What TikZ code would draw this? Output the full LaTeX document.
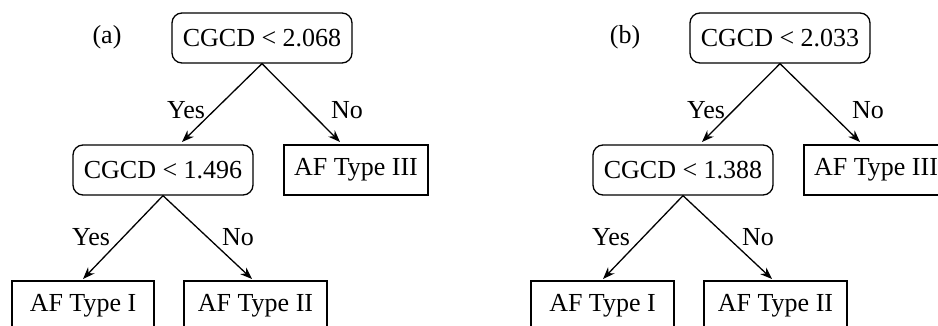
\documentclass[tikz,border=0pt]{standalone}
\usepackage{fontspec}
\setmainfont{Liberation Serif}
\usetikzlibrary{arrows.meta}
\begin{document}
\begin{tikzpicture}[x=1pt,y=-1pt,
  every node/.style={font=\fontsize{26}{31}\selectfont, inner sep=0pt},
  cond/.style={draw, line width=1.3pt, rounded corners=10pt, minimum width=180pt, minimum height=50pt},
  leaf/.style={draw, line width=1.3pt, minimum width=143pt, minimum height=50pt},
  conn/.style={line width=1.3pt, -{Stealth[length=12pt,width=9pt]}},
  lbl/.style={}
]
\useasboundingbox (0,0) rectangle (938,326);
% panel (a)
\node (pa) at (107,37) {(a)};
\node[cond] (ra) at (262,38) {CGCD < 2.068};
\node[cond] (ca) at (163,170) {CGCD < 1.496};
\node[leaf, minimum width=144pt] (t3a) at (356,170) {AF Type III};
\node[leaf, minimum width=142pt] (t1a) at (83,306) {AF Type I};
\node[leaf] (t2a) at (255.5,306) {AF Type II};
\coordinate (ya) at (182,142);
\coordinate (na) at (340,142);
\coordinate (y2a) at (83,279);
\coordinate (n2a) at (252,279);
\draw[conn] (ra.south) -- (ya);
\draw[conn] (ra.south) -- (na);
\draw[conn] (ca.south) -- (y2a);
\draw[conn] (ca.south) -- (n2a);
\node[lbl] (lya) at (186,110) {Yes};
\node[lbl] (lna) at (347,110) {No};
\node[lbl] (ly2a) at (91,237) {Yes};
\node[lbl] (ln2a) at (238,237) {No};
% panel (b)
\node (pb) at (625,37) {(b)};
\node[cond] (rb) at (780,38) {CGCD < 2.033};
\node[cond] (cb) at (683,170) {CGCD < 1.388};
\node[leaf, minimum width=144pt] (t3b) at (876,170) {AF Type III};
\node[leaf] (t1b) at (602.5,306) {AF Type I};
\node[leaf] (t2b) at (775.5,306) {AF Type II};
\coordinate (yb) at (702,142);
\coordinate (nb) at (860,142);
\coordinate (y2b) at (603,279);
\coordinate (n2b) at (772,279);
\draw[conn] (rb.south) -- (yb);
\draw[conn] (rb.south) -- (nb);
\draw[conn] (cb.south) -- (y2b);
\draw[conn] (cb.south) -- (n2b);
\node[lbl] (lyb) at (706,110) {Yes};
\node[lbl] (lnb) at (868,110) {No};
\node[lbl] (ly2b) at (611,237) {Yes};
\node[lbl] (ln2b) at (758,237) {No};
\end{tikzpicture}
\end{document}
